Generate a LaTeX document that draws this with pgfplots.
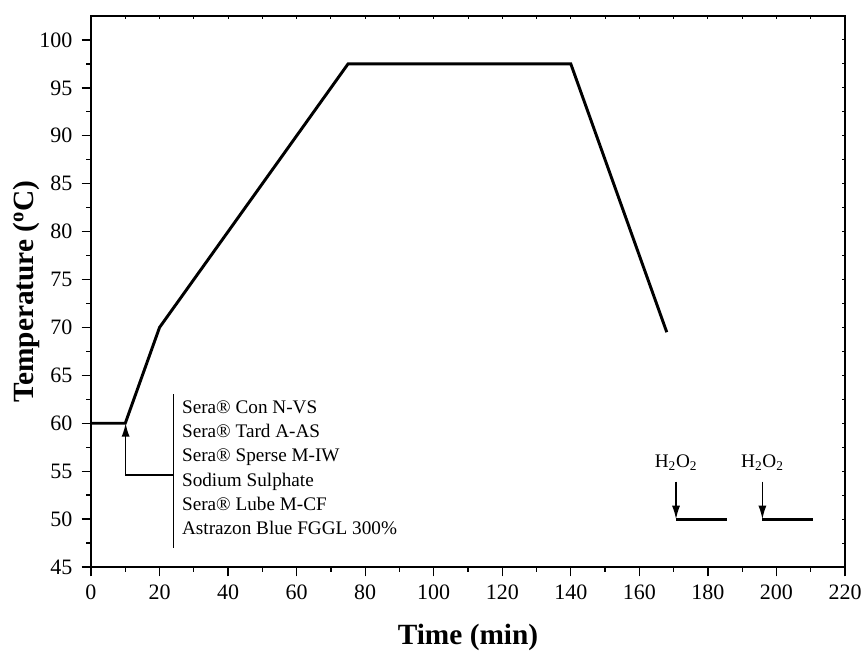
\documentclass[border=0pt]{standalone}
\usepackage{fontspec}
\setmainfont{Liberation Serif}
\usepackage{pgfplots}
\usetikzlibrary{arrows.meta}
\pgfplotsset{compat=1.18}
\begin{document}
\begin{tikzpicture}
\pgfplotsset{
 common/.style={scale only axis, width=565.5pt, height=413.25pt,
  xmin=0, xmax=220, ymin=45, ymax=102.5,
  xtick={0,20,...,220}, ytick={45,50,...,100},
  minor x tick num=1, minor y tick num=1}
}
\begin{axis}[common, xtick pos=right, ytick pos=right, tick align=inside,
  xticklabels={}, yticklabels={}, major tick length=2pt, minor tick length=2pt,
  tick style={black, line width=0.7pt}, axis line style={line width=1.2pt}]
\end{axis}
\begin{axis}[common, xtick pos=left, ytick pos=left, tick align=outside,
  major tick length=7pt, minor tick length=3.5pt,
  tick style={black, line width=1pt}, axis line style={line width=1.2pt},
  /pgf/number format/assume math mode=true,
  ticklabel style={font=\fontsize{16.5}{18}\selectfont},
  xticklabel style={yshift=-3pt},
  yticklabel style={xshift=-3.5pt},
  xlabel={Time (min)}, ylabel={Temperature (\textsuperscript{o}C)},
  label style={font=\fontsize{22}{24}\selectfont\bfseries},
  xlabel style={at={([yshift=-52.5pt]rel axis cs:0.5,0)}, anchor=center},
  ylabel style={at={([xshift=-48.5pt]rel axis cs:0,0.5)}, anchor=center},
  clip=false]
\addplot[black, line width=2.2pt, line join=miter] coordinates {(0,60) (10,60) (20,70) (75,97.5) (140,97.5) (168,69.5)};
\addplot[black, line width=2.2pt] coordinates {(170.7,50) (185.5,50)};
\addplot[black, line width=2.2pt] coordinates {(195.9,50) (210.8,50)};
\draw[line width=1pt] (axis cs:24,47) -- (axis cs:24,63.1);
\draw[line width=1pt, -{Latex[length=10pt,width=6pt]}] (axis cs:24,54.6) -| (axis cs:10.1,60);
\draw[line width=1pt, -{Latex[length=10pt,width=6pt]}] (axis cs:170.7,53.9) -- (axis cs:170.7,50);
\draw[line width=1pt, -{Latex[length=10pt,width=6pt]}] (axis cs:195.9,53.9) -- (axis cs:195.9,50);
\node[font=\fontsize{14.4}{17}\selectfont] at (axis cs:170.7,55.85) {H\textsubscript{2}O\textsubscript{2}};
\node[font=\fontsize{14.4}{17}\selectfont] at (axis cs:195.9,55.85) {H\textsubscript{2}O\textsubscript{2}};
\node[font=\fontsize{14.4}{18.2}\selectfont, align=left, anchor=west, inner sep=0pt] at (axis cs:26.5,55.37) {Sera\textregistered{} Con N-VS\\Sera\textregistered{} Tard A-AS\\Sera\textregistered{} Sperse M-IW\\Sodium Sulphate\\Sera\textregistered{} Lube M-CF\\Astrazon Blue FGGL 300\%};
\end{axis}
\path[use as bounding box] (-68.25pt,-59.25pt) rectangle (582.75pt,425.25pt);
\end{tikzpicture}
\end{document}
